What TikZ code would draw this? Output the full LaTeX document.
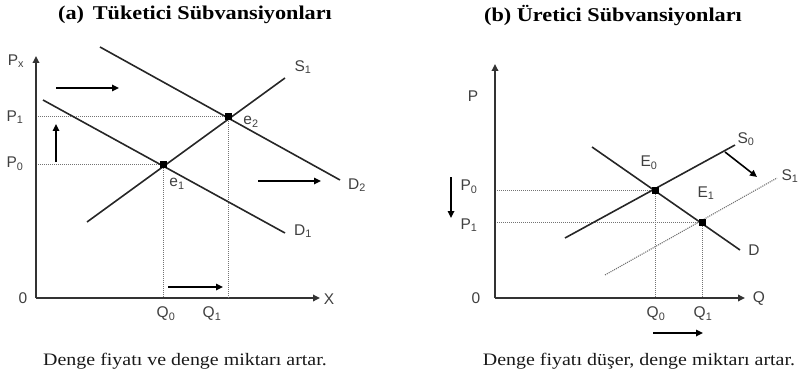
\documentclass[tikz,border=0pt]{standalone}
\usepackage{fontspec}
\setmainfont[FakeStretch=1.14]{Liberation Serif}
\setsansfont{Liberation Sans}
\usetikzlibrary{arrows.meta}
\newcommand\lbsub[1]{\textsubscript{#1}}
\tikzset{
  curve/.style={line width=1.6pt, draw=black!85},
  axis/.style={line width=1.7pt, draw=black!80, -{Triangle[length=7pt,width=6.5pt]}},
  guide/.style={densely dotted, line width=1pt, draw=black!55},
  shiftdot/.style={densely dotted, line width=1.1pt, draw=black!55},
  move/.style={line width=1.6pt, draw=black, -{Triangle[length=7pt,width=6.5pt]}},
  lbl/.style={font=\sffamily\fontsize{15.5}{15.5}\selectfont, text=black!75, inner sep=0pt},
  title/.style={font=\bfseries\fontsize{19.5}{20}\selectfont, inner sep=0pt},
  caption/.style={font=\fontsize{17.5}{18}\selectfont, text=black!90, inner sep=0pt},
  eq/.style={rectangle, fill=black, inner sep=0pt, minimum size=7pt}
}
\begin{document}
\begin{tikzpicture}[x=1pt,y=-1pt]
\useasboundingbox (0,0) rectangle (800,377);
% ---------- panel (a) ----------
\node[title] (ta) at (195,15) {(a)\, Tüketici Sübvansiyonları};
\coordinate (oa) at (36,298);
\coordinate (ya) at (36,56);
\coordinate (xa) at (320,298);
\draw[axis] (oa) -- (ya);
\draw[axis] (oa) -- (xa);
\coordinate (p1a) at (38,117);
\coordinate (p0a) at (38,164);
\coordinate (q0a) at (163,298);
\coordinate (q1a) at (228,298);
\coordinate (c1) at (163,164);
\coordinate (c2) at (228,117);
\draw[guide] (p1a) -- (c2);
\draw[guide] (p0a) -- (c1);
\draw[guide] (c1) -- (q0a);
\draw[guide] (c2) -- (q1a);
\coordinate (d1s) at (43,100);
\coordinate (d1e) at (285,233);
\coordinate (d2s) at (100,47);
\coordinate (d2e) at (340,180);
\coordinate (s1s) at (87,222);
\coordinate (s1e) at (285,78);
\draw[curve] (d1s) -- (d1e);
\draw[curve] (d2s) -- (d2e);
\draw[curve] (s1s) -- (s1e);
\node[eq] (e1) at (c1) {};
\node[eq] (e2) at (c2) {};
\node[lbl] (lPx) at (16,61) {P\lbsub{x}};
\node[lbl] (lP1a) at (15,117) {P\lbsub{1}};
\node[lbl] (lP0a) at (15,164) {P\lbsub{0}};
\node[lbl] (l0a) at (23,298) {0};
\node[lbl] (lX) at (329,299) {X};
\node[lbl] (lQ0a) at (166,314) {Q\lbsub{0}};
\node[lbl] (lQ1a) at (212,314) {Q\lbsub{1}};
\node[lbl] (lS1a) at (303,67) {S\lbsub{1}};
\node[lbl] (lD2) at (357,185) {D\lbsub{2}};
\node[lbl] (lD1) at (303,231) {D\lbsub{1}};
\node[lbl] (le2) at (251,122) {e\lbsub{2}};
\node[lbl] (le1) at (177,184) {e\lbsub{1}};
\coordinate (ar1s) at (56,88);
\coordinate (ar1e) at (119,88);
\coordinate (ar2s) at (56,162);
\coordinate (ar2e) at (56,124);
\coordinate (ar3s) at (258,181);
\coordinate (ar3e) at (321,181);
\coordinate (ar4s) at (168,287);
\coordinate (ar4e) at (223,287);
\draw[move] (ar1s) -- (ar1e);
\draw[move] (ar2s) -- (ar2e);
\draw[move] (ar3s) -- (ar3e);
\draw[move] (ar4s) -- (ar4e);
\node[caption] (ca) at (185,361) {Denge fiyatı ve denge miktarı artar.};
% ---------- panel (b) ----------
\node[title] (tb) at (613,15) {(b) Üretici Sübvansiyonları};
\coordinate (ob) at (495,298);
\coordinate (yb) at (495,64);
\coordinate (xb) at (745,298);
\draw[axis] (ob) -- (yb);
\draw[axis] (ob) -- (xb);
\coordinate (c3) at (655,190);
\coordinate (c4) at (702,222);
\coordinate (p0b) at (497,190);
\coordinate (p1b) at (497,222);
\coordinate (q0b) at (655,298);
\coordinate (q1b) at (702,298);
\draw[guide] (p0b) -- (c3);
\draw[guide] (p1b) -- (c4);
\draw[guide] (c3) -- (q0b);
\draw[guide] (c4) -- (q1b);
\coordinate (s0s) at (565,238);
\coordinate (s0e) at (735,145);
\coordinate (dbs) at (592,147);
\coordinate (dbe) at (740,250);
\coordinate (s1bs) at (605,275);
\coordinate (s1be) at (777,178);
\draw[shiftdot] (s1bs) -- (s1be);
\draw[curve] (s0s) -- (s0e);
\draw[curve] (dbs) -- (dbe);
\node[eq] (E0) at (c3) {};
\node[eq] (E1) at (c4) {};
\node[lbl] (lP) at (473,96) {P};
\node[lbl] (lP0b) at (469,187) {P\lbsub{0}};
\node[lbl] (lP1b) at (469,225) {P\lbsub{1}};
\node[lbl] (l0b) at (476,298) {0};
\node[lbl] (lQ) at (759,299) {Q};
\node[lbl] (lQ0b) at (656,314) {Q\lbsub{0}};
\node[lbl] (lQ1b) at (703,314) {Q\lbsub{1}};
\node[lbl] (lS0b) at (746,139) {S\lbsub{0}};
\node[lbl] (lS1b) at (790,176) {S\lbsub{1}};
\node[lbl] (lE0) at (649,163) {E\lbsub{0}};
\node[lbl] (lE1) at (706,193) {E\lbsub{1}};
\node[lbl] (lD) at (754,250) {D};
\coordinate (br1s) at (725,152);
\coordinate (br1e) at (757,177);
\coordinate (br2s) at (451,177);
\coordinate (br2e) at (451,218);
\coordinate (br3s) at (653,333);
\coordinate (br3e) at (703,333);
\draw[move] (br1s) -- (br1e);
\draw[move] (br2s) -- (br2e);
\draw[move] (br3s) -- (br3e);
\node[caption] (cb) at (639,361) {Denge fiyatı düşer, denge miktarı artar.};
\end{tikzpicture}
\end{document}
